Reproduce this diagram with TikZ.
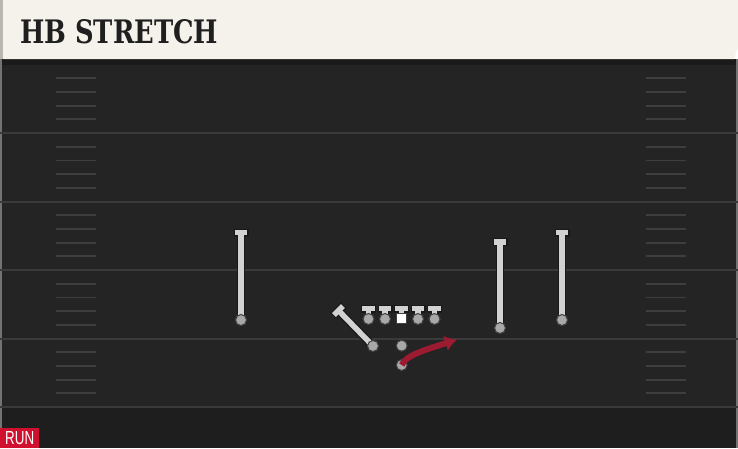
\documentclass[tikz,border=0pt]{standalone}
\usepackage{fontspec}
\setmainfont{DejaVu Serif}
\newfontfamily\runfont{Liberation Sans}
\usetikzlibrary{arrows.meta}
\definecolor{fieldbg}{HTML}{242424}
\definecolor{fielddark}{HTML}{1E1E1E}
\definecolor{topstrip}{HTML}{1A1A1A}
\definecolor{yardline}{HTML}{3A3A3A}
\definecolor{hashc}{HTML}{3E3E3E}
\definecolor{headbg}{HTML}{F5F2EB}
\definecolor{headedge}{HTML}{B8B6B0}
\definecolor{plgrey}{HTML}{D2D2D2}
\definecolor{dotgrey}{HTML}{A8A8A8}
\definecolor{routered}{HTML}{9B1B30}
\definecolor{runred}{HTML}{D0102E}
\tikzset{
  yard/.style={draw=yardline, line width=2pt},
  hashm/.style={draw=hashc, line width=1.8pt},
  stemout/.style={draw=black!90, line width=8pt},
  stemin/.style={draw=plgrey, line width=5.5pt},
  barout/.style={draw=black!90, line width=8pt},
  barin/.style={draw=plgrey, line width=5.5pt},
  pdot/.style={circle, fill=dotgrey, draw=black!75, line width=1pt, minimum size=11pt, inner sep=0pt},
  ctrsq/.style={rectangle, fill=white, draw=black!75, line width=1pt, minimum size=10pt, inner sep=0pt},
  route/.style={draw=routered, line width=6pt, -{Latex[length=12pt,width=16pt]}},
}
\begin{document}
\begin{tikzpicture}[x=1pt,y=-1pt]
\useasboundingbox (0,0) rectangle (738,448);
% field
\fill[fieldbg] (0,59) rectangle (738,448);
\fill[fielddark] (0,408) rectangle (738,448);
\fill[topstrip] (0,59) rectangle (738,65);
\fill[black!55] (0,59) rectangle (2,448);
\fill[black!55] (736,59) rectangle (738,448);
% yard lines
\foreach \y in {133,201.5,270,338.5,407} {
  \draw[yard] (0,\y) -- (738,\y);
}
% hash marks
\foreach \b in {64.5,133,201.5,270,338.5} {
  \foreach \k in {1,2,3,4} {
    \draw[hashm] (56,{\b+\k*13.7}) -- (96,{\b+\k*13.7});
    \draw[hashm] (646,{\b+\k*13.7}) -- (686,{\b+\k*13.7});
  }
}
% header
\fill[headedge] (0,0) rectangle (3,59);
\fill[headbg] (3,0) -- (738,0) -- (738,47) -- (734,59) -- (3,59) -- cycle;
\node[anchor=south west, inner sep=0pt, text=black!88] (title) at (20,44)
  {\resizebox{198pt}{24pt}{\bfseries HB STRETCH}};
% RUN label
\node[anchor=south west, fill=runred, minimum width=39pt, minimum height=20pt, inner sep=0pt, text=white] (runlbl) at (0,448)
  {\resizebox{29pt}{13pt}{\runfont RUN}};
% receivers
\coordinate (wlTop) at (241,232.5);
\node[pdot] (wlDot) at (241,320) {};
\coordinate (s1Top) at (500,242);
\node[pdot] (s1Dot) at (500,328) {};
\coordinate (s2Top) at (562,232.5);
\node[pdot] (s2Dot) at (562,320) {};
% angled player
\coordinate (anTop) at (338.5,310.5);
\node[pdot] (anDot) at (373,346) {};
% linemen
\foreach \n/\x in {t1/368.5,t2/385,t4/418,t5/434.5} {
  \coordinate (\n Top) at (\x,308.5);
  \node[pdot] (\n Dot) at (\x,319) {};
}
\coordinate (t3Top) at (401.7,308.5);
\coordinate (t3Bot) at (401.7,314);
% stems (outline)
\foreach \n in {wl,s1,s2,an,t1,t2,t4,t5} {
  \draw[stemout] (\n Top) -- (\n Dot.center);
}
\draw[stemout] (t3Top) -- (t3Bot);
% bars outline
\foreach \n in {wl,s1,s2,t1,t2,t3,t4,t5} {
  \draw[barout] ([xshift=-7.5pt]\n Top) -- ([xshift=7.5pt]\n Top);
}
\draw[barout] ([shift={(-5.3,5.3)}]anTop) -- ([shift={(5.3,-5.3)}]anTop);
% stems inner
\foreach \n in {wl,s1,s2,an,t1,t2,t4,t5} {
  \draw[stemin] (\n Top) -- (\n Dot.center);
}
\draw[stemin] (t3Top) -- (t3Bot);
\foreach \n in {wl,s1,s2,t1,t2,t3,t4,t5} {
  \draw[barin] ([xshift=-6.3pt]\n Top) -- ([xshift=6.3pt]\n Top);
}
\draw[barin] ([shift={(-4.5,4.5)}]anTop) -- ([shift={(4.5,-4.5)}]anTop);
% dots on top
\foreach \n in {wl,s1,s2,an,t1,t2,t4,t5} {
  \node[pdot] at (\n Dot) {};
}
\node[ctrsq] (ctr) at (401.7,318) {};
% backfield
\node[pdot] (qb) at (401.7,345.7) {};
\node[pdot] (rb) at (401.7,365) {};
\coordinate (rtip) at (457,339.5);
\draw[route] (rb.center) .. controls (406,355) and (425,350) .. (rtip);
\end{tikzpicture}
\end{document}
